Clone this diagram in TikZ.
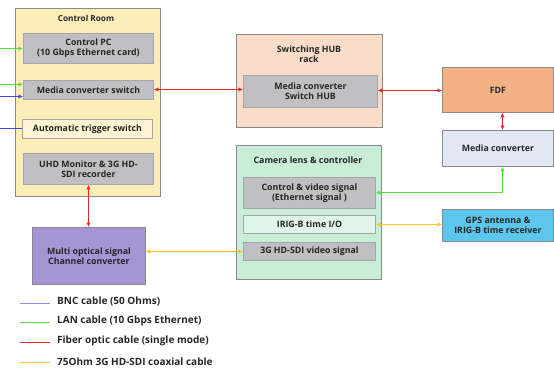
\documentclass[tikz,border=0pt]{standalone}
\usepackage{fontspec}
\setmainfont{Open Sans}
\usetikzlibrary{arrows.meta}
\definecolor{crfill}{HTML}{FDEDB8}
\definecolor{grayfill}{HTML}{C0C0C2}
\definecolor{hubfill}{HTML}{FADCC8}
\definecolor{fdffill}{HTML}{F3B183}
\definecolor{mcfill}{HTML}{E1E8F4}
\definecolor{gpsfill}{HTML}{5CC6EC}
\definecolor{camfill}{HTML}{C8EED8}
\definecolor{mofill}{HTML}{A594D6}
\definecolor{bnc}{HTML}{4848D0}
\definecolor{lan}{HTML}{5CDC3C}
\definecolor{fiber}{HTML}{E8262A}
\definecolor{coax}{HTML}{F7C81E}
\definecolor{edge}{HTML}{8A8A8A}
\begin{document}
\begin{tikzpicture}[x=1pt,y=-1pt,
  font=\bfseries\fontsize{8.8}{10.2}\selectfont,
  every node/.style={inner sep=0pt, align=center, text=black!85},
  rbox/.style={draw=edge, line width=0.9pt, anchor=north west},
  gbox/.style={rbox, fill=grayfill, draw=gray!70},
  lbox/.style={rbox, fill=#1, draw=gray!70},
  tip/.style={-{Latex[length=4.5pt,width=4.5pt]}},
  tips/.style={{Latex[length=4.5pt,width=4.5pt]}-{Latex[length=4.5pt,width=4.5pt]}},
  cab/.style={line width=1.5pt},
  legtext/.style={anchor=west, font=\bfseries\fontsize{10}{12}\selectfont}]
\useasboundingbox (0,0) rectangle (554,372);

% Control room
\node[rbox, fill=crfill, minimum width=145, minimum height=188] (CR) at (15,8) {};
\node[font=\bfseries\fontsize{8.2}{10}\selectfont] (CRt) at (86,18) {Control Room};
\node[gbox, minimum width=130, minimum height=30] (CP) at (23,33) {Control PC\\(10 Gbps Ethernet card)};
\node[gbox, minimum width=130, minimum height=19] (MCS) at (23,80) {Media converter switch};
\node[lbox=crfill!60!white, minimum width=130, minimum height=19] (ATS) at (22,119) {Automatic trigger switch};
\node[gbox, minimum width=130, minimum height=31] (UHD) at (23,153) {UHD Monitor \& 3G HD-\\SDI recorder};

% Switching hub
\node[rbox, fill=hubfill, minimum width=146, minimum height=93] (HUB) at (236,34) {};
\node (HUBt) at (309,54) {Switching HUB\\rack};
\node[gbox, minimum width=134, minimum height=32] (HUBin) at (243,75) {Media converter\\Switch HUB};

% Right column
\node[rbox, fill=fdffill, minimum width=111, minimum height=45] (FDF) at (442,67) {FDF};
\node[rbox, fill=mcfill, minimum width=111, minimum height=36] (MC) at (442,130) {Media converter};
\node[rbox, fill=gpsfill, minimum width=111, minimum height=32] (GPS) at (442,209) {GPS antenna \&\\IRIG-B time receiver};

% Camera
\node[rbox, fill=camfill, minimum width=145, minimum height=134] (CAM) at (236,145) {};
\node (CAMt) at (308,160) {Camera lens \& controller};
\node[gbox, minimum width=132, minimum height=31] (CV) at (243,177) {Control \& video signal\\(Ethernet signal )};
\node[lbox=camfill!60!white, minimum width=132, minimum height=18] (IRIG) at (243,215) {IRIG-B time I/O};
\node[gbox, minimum width=132, minimum height=18] (SDI) at (243,242) {3G HD-SDI video signal};

% Multi optical
\node[rbox, fill=mofill, minimum width=113, minimum height=57] (MO) at (32,227) {Multi optical signal\\Channel converter};

% left inputs
\coordinate (g1) at (0,48.5);
\coordinate (g2) at (0,84.5);
\coordinate (b1) at (0,96.5);
\coordinate (b2) at (0,128.5);
\draw[cab, lan, tip] (g1) -- (g1 -| CP.west);
\draw[cab, lan, tip] (g2) -- (g2 -| MCS.west);
\draw[cab, bnc, tip] (b1) -- (b1 -| MCS.west);
\draw[cab, bnc] (b2) -- (b2 -| ATS.west);

% fiber links
\coordinate (y1) at (0,89.5);
\coordinate (y2) at (0,90.5);
\coordinate (fx) at (502.5,0);
\coordinate (ux) at (88.5,0);
\draw[cab, fiber, tips] (MCS.east |- y1) -- (HUBin.west |- y1);
\draw[cab, fiber, tips] (HUBin.east |- y2) -- (FDF.west |- y2);
\draw[cab, fiber, tips] (fx |- FDF.south) -- (fx |- MC.north);
\draw[cab, fiber, tips] (ux |- UHD.south) -- (ux |- MO.north);

% LAN to media converter
\coordinate (lc) at (502.5,192.5);
\draw[cab, lan, tips] (CV.east |- lc) -- (lc) -- (fx |- MC.south);

% coax
\coordinate (y3) at (0,224.5);
\coordinate (y4) at (0,251.5);
\draw[cab, coax, tips] (IRIG.east |- y3) -- (GPS.west |- y3);
\draw[cab, coax, tips] (SDI.west |- y4) -- (MO.east |- y4);

% legend
\coordinate (l1) at (20,303.5);
\coordinate (l2) at (20,322.5);
\coordinate (l3) at (20,342.5);
\coordinate (l4) at (20,362.5);
\draw[cab, bnc!60!white] (l1) -- ++(30,0);
\draw[cab, lan] (l2) -- ++(30,0);
\draw[cab, fiber] (l3) -- ++(30,0);
\draw[cab, coax] (l4) -- ++(30,0);
\node[legtext] (t1) at (57,301) {BNC cable (50 Ohms)};
\node[legtext] (t2) at (57,321) {LAN cable (10 Gbps Ethernet)};
\node[legtext] (t3) at (57,341) {Fiber optic cable (single mode)};
\node[legtext] (t4) at (57,362) {75Ohm 3G HD-SDI coaxial cable};
\end{tikzpicture}
\end{document}
